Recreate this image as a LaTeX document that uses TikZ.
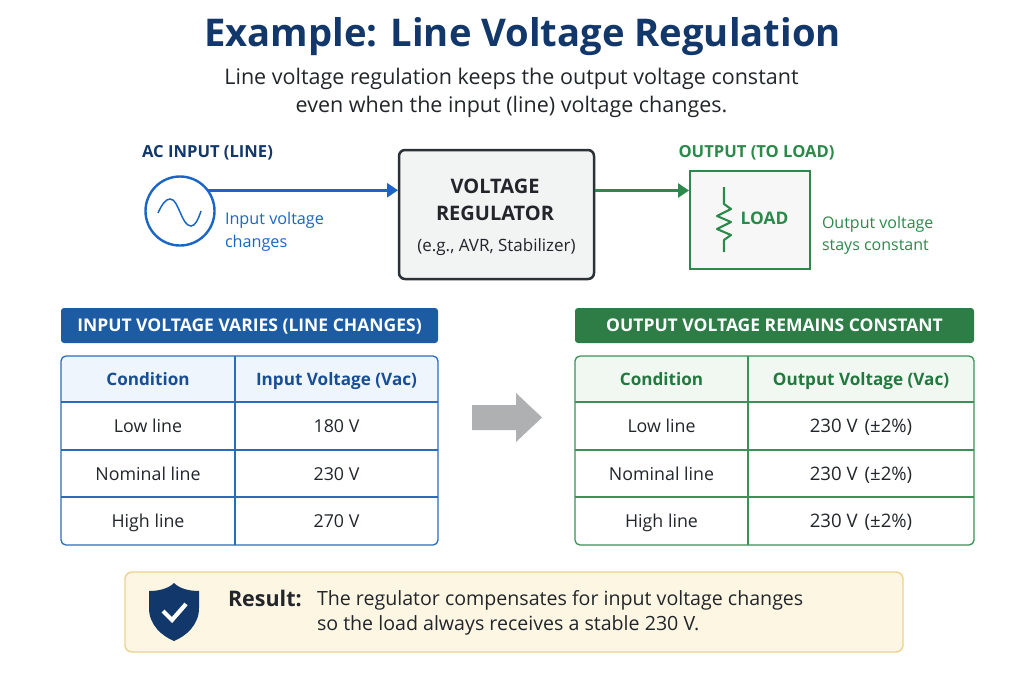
\documentclass[tikz,border=0pt]{standalone}
\usepackage{fontspec}
\setmainfont{Open Sans}
\usetikzlibrary{arrows.meta,calc}
\definecolor{navy}{HTML}{12386B}
\definecolor{bluec}{HTML}{1A66C4}
\definecolor{bluebar}{HTML}{1D5CA3}
\definecolor{bluehead}{HTML}{EEF5FD}
\definecolor{blueline}{HTML}{2B6CB8}
\definecolor{bluetext}{HTML}{174E96}
\definecolor{greenc}{HTML}{2B8A4B}
\definecolor{greenbar}{HTML}{2E7D46}
\definecolor{greenhead}{HTML}{F0F8F1}
\definecolor{greenline}{HTML}{3C9058}
\definecolor{greentext}{HTML}{22783F}
\definecolor{darkt}{HTML}{22262B}
\definecolor{regfill}{HTML}{F2F3F3}
\definecolor{regline}{HTML}{2A3138}
\definecolor{resfill}{HTML}{FDF6E3}
\definecolor{resline}{HTML}{ECD28F}
\definecolor{grayarrow}{HTML}{AEB0B2}
\tikzset{
  x=1pt,y=-1pt,
  txt/.style={inner sep=0pt,outer sep=0pt,text=darkt},
  lab/.style={txt,text height=11.9pt,text depth=0pt,font=\bfseries\fontsize{16.6}{17}\selectfont},
  note/.style={txt,font=\fontsize{16.2}{23}\selectfont,align=left,anchor=west},
  bar/.style={rounded corners=3pt,inner sep=0pt,outer sep=0pt,text=white,text height=12.5pt,text depth=0pt,font=\bfseries\fontsize{17.5}{18}\selectfont},
  cell/.style={txt,text height=12.8pt,text depth=0pt,font=\fontsize{17.8}{18}\selectfont},
  valcell/.style={txt,text height=13.2pt,text depth=0pt,font=\fontsize{18.6}{19}\selectfont},
  headcell/.style={txt,text height=12.2pt,text depth=0pt,font=\bfseries\fontsize{17.1}{18}\selectfont},
  conn/.style={line width=2.8pt,-{Triangle[length=11pt,width=14pt]}},
}
\newcommand{\plusminus}{230 V\hspace{7pt}(±2\%)}
% args: x0, xdiv, x1, line colour, head fill, text colour, prefix, header2, value cells
\newcommand{\voltTable}[9]{%
  \begin{scope}
    \clip[rounded corners=5pt] (#1,356) rectangle (#3,545);
    \fill[#5] (#1,356) rectangle (#3,402);
  \end{scope}
  \draw[#4,line width=1.3pt,rounded corners=5pt] (#1,356) rectangle (#3,545);
  \draw[#4,line width=1.3pt] (#2,356) -- (#2,545)
     (#1,402) -- (#3,402) (#1,450) -- (#3,450) (#1,497) -- (#3,497);
  \node[headcell,text=#6] (#7h1) at ({(#1+#2)/2},379) {Condition};
  \node[headcell,text=#6] (#7h2) at ({(#2+#3)/2},379) {#8};
  \node[cell] (#7a1) at ({(#1+#2)/2},426) {Low line};
  \node[cell] (#7b1) at ({(#1+#2)/2},474) {Nominal line};
  \node[cell] (#7c1) at ({(#1+#2)/2},521) {High line};
  #9}
\begin{document}
\begin{tikzpicture}
\useasboundingbox (0,0) rectangle (1024,683);
\fill[white] (0,0) rectangle (1024,683);
\node[txt,text=navy,text height=27.3pt,text depth=0pt,font=\bfseries\fontsize{38.2}{38}\selectfont] (title) at (522.5,33) {Example: Line Voltage Regulation};
\node[txt,font=\fontsize{21.5}{28}\selectfont,align=center] (sub) at (511.5,93) {Line voltage regulation keeps the output voltage constant\\even when the input (line) voltage changes.};

% AC source
\node[lab,text=navy] (aclab) at (207.5,152) {AC INPUT (LINE)};
\node[draw=bluec,line width=2.4pt,circle,minimum size=69pt,inner sep=0pt,outer sep=0pt] (src) at (180,211) {};
\draw[bluec,line width=1.5pt] (158,213) .. controls (162,204) and (166,199) .. (170,199) .. controls (175,199) and (177,206) .. (180,212) .. controls (183,219) and (186,226) .. (191,226) .. controls (195,226) and (198,220) .. (201,211);
\node[note,text=bluec] (innote) at (225,232) {Input voltage\\changes};

% regulator
\node[draw=regline,fill=regfill,line width=2.5pt,rounded corners=6pt,minimum width=195pt,minimum height=129pt,inner sep=0pt,outer sep=1pt] (reg) at (496.5,214.5) {};
\node[txt,font=\bfseries\fontsize{20}{27}\selectfont,align=center] (regt) at (495,200) {VOLTAGE\\REGULATOR};
\node[txt,text height=12pt,text depth=0pt,font=\fontsize{17}{18}\selectfont] (regs) at (496.5,245) {(e.g., AVR, Stabilizer)};

% load
\node[lab,text=greenc] (outlab) at (756.5,152) {OUTPUT (TO LOAD)};
\node[draw=greenc,fill=white!97!black,line width=2.5pt,minimum width=120pt,minimum height=98pt,inner sep=0pt,outer sep=1pt] (load) at (750,220) {};
\draw[greenc,line width=2.1pt,line join=round] (724,187) -- (724,204) -- (731,209) -- (717,216) -- (731,222) -- (717,229) -- (731,235) -- (724,240) -- (724,252);
\node[lab,text=greenc,text height=12.3pt,font=\bfseries\fontsize{17.3}{18}\selectfont] (loadt) at (764.5,218) {LOAD};
\node[note,text=greenc,font=\fontsize{16}{22}\selectfont] (outnote) at (822,235) {Output voltage\\stays constant};

% connectors
\coordinate (outy) at (640,190.5);
\draw[bluec,conn] (src.37) -- (reg.west |- src.37);
\draw[greenc,conn] (reg.east |- outy) -- (load.west |- outy);

% banners
\node[bar,fill=bluebar,minimum width=377pt,minimum height=35pt] (bl) at (249.5,325.5) {INPUT VOLTAGE VARIES (LINE CHANGES)};
\node[bar,fill=greenbar,minimum width=399pt,minimum height=35pt] (br) at (774.5,325.5) {OUTPUT VOLTAGE REMAINS CONSTANT};

% tables
\voltTable{61}{235}{438}{blueline}{bluehead}{bluetext}{L}{Input Voltage (Vac)}{%
  \node[cell] (La2) at (336.5,426) {180 V};
  \node[cell] (Lb2) at (336.5,474) {230 V};
  \node[cell] (Lc2) at (336.5,521) {270 V};}
\voltTable{575}{748}{974}{greenline}{greenhead}{greentext}{R}{Output Voltage (Vac)}{%
  \node[valcell] (Ra2) at (861,426) {\plusminus};
  \node[valcell] (Rb2) at (861,474) {\plusminus};
  \node[valcell] (Rc2) at (861,521) {\plusminus};}

% gray arrow
\fill[grayarrow] (472,405) -- (516,405) -- (516,393) -- (542,417.5) -- (516,442) -- (516,430) -- (472,430) -- cycle;

% result
\node[draw=resline,fill=resfill,line width=1.4pt,rounded corners=7pt,minimum width=778pt,minimum height=80pt,inner sep=0pt,outer sep=0pt] (res) at (514,612) {};
\fill[navy] (174,583) .. controls (180,589) and (190,591) .. (199,591) -- (199,608) .. controls (199,625) and (186,636) .. (174,641) .. controls (162,636) and (149,625) .. (149,608) -- (149,591) .. controls (158,591) and (168,589) .. (174,583) -- cycle;
\draw[white,line width=4.2pt,line join=miter] (163,611) -- (172,620) -- (186,604);
\node[txt,anchor=west,text height=15.4pt,text depth=0pt,font=\bfseries\fontsize{21.5}{22}\selectfont] (resl) at (228,599) {Result:};
\node[txt,anchor=west,align=left,font=\fontsize{19.6}{24.5}\selectfont] (rest) at (317,613) {The regulator compensates for input voltage changes\\so the load always receives a stable 230 V.};
\end{tikzpicture}
\end{document}
